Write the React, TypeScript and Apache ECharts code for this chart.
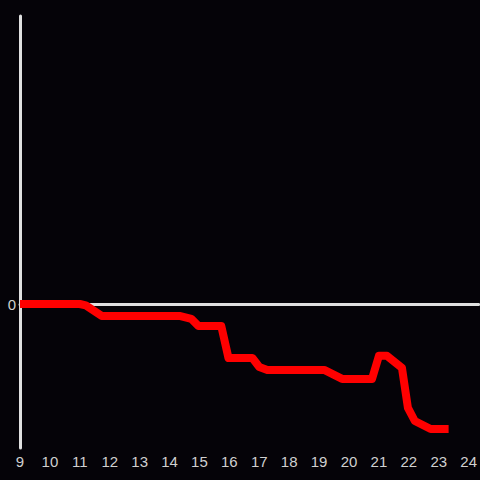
import React, { useEffect, useRef } from "react";
import * as echarts from "echarts";

const hours: number[] = [9, 11, 11.2, 11.73, 14.33, 14.73, 14.97, 15.73, 15.97, 16.77, 17.0, 17.27, 19.17, 19.77, 20.77, 21.0, 21.27, 21.77, 21.97, 22.2, 22.73, 23.33];
const values: number[] = [0, 0, -0.01, -0.083, -0.083, -0.104, -0.153, -0.153, -0.375, -0.375, -0.4375, -0.458, -0.458, -0.52, -0.52, -0.36, -0.36, -0.444, -0.722, -0.8125, -0.868, -0.868];
const yLabels: string[] = ["0"];

export default function App() {
  const ref = useRef<HTMLDivElement>(null);
  useEffect(() => {
    if (!ref.current) return;
    const chart = echarts.init(ref.current, null, { renderer: "svg" });
    const xBase = {
      type: "value",
      min: 9,
      max: 24 + 1 / 3,
      interval: 1,
      splitLine: { show: false },
      axisTick: { show: false },
    };
    chart.setOption({
      animation: false,
      backgroundColor: "#050308",
      grid: { left: 20, right: 0, top: 16, bottom: 32 },
      xAxis: [
        {
          ...xBase,
          position: "bottom",
          axisLine: { show: false, onZero: false },
          axisLabel: {
            color: "#d0d0d0",
            fontSize: 15,
            fontFamily: "Liberation Sans",
            margin: 6,
            showMaxLabel: false,
            formatter: (v: number) => (Number.isInteger(v) ? String(v) : ""),
          },
        },
        {
          ...xBase,
          position: "bottom",
          axisLine: { show: true, onZero: true, lineStyle: { color: "#e0e0e0", width: 3 } },
          axisLabel: { show: false },
        },
      ],
      yAxis: {
        type: "value",
        min: -1,
        max: 2,
        interval: 1,
        splitLine: { show: false },
        axisTick: { show: false },
        axisLine: { show: true, lineStyle: { color: "#e0e0e0", width: 3 } },
        axisLabel: {
          color: "#d0d0d0",
          fontSize: 15,
          fontFamily: "Liberation Sans",
          margin: 4,
          formatter: (v: number) => (yLabels.includes(String(v)) ? String(v) : ""),
        },
      },
      series: [
        {
          type: "line",
          xAxisIndex: 0,
          data: hours.map((h, i) => [h, values[i]]),
          showSymbol: false,
          symbol: "none",
          lineStyle: { color: "#ff0000", width: 8, join: "round" },
          z: 5,
        },
      ],
    });
    return () => chart.dispose();
  }, []);
  return <div ref={ref} style={{ width: 480, height: 480, position: "fixed", left: 0, top: 0 }} />;
}
